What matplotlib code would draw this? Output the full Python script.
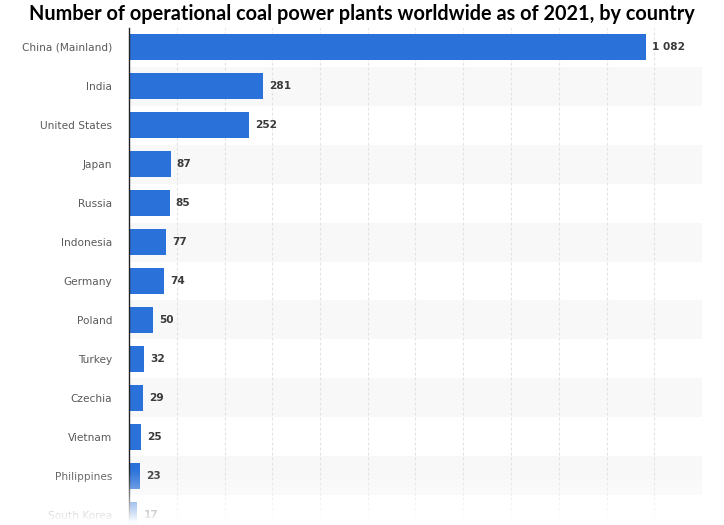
import matplotlib
matplotlib.use("Agg")
import matplotlib.pyplot as plt
import numpy as np

countries = ["China (Mainland)", "India", "United States", "Japan", "Russia",
             "Indonesia", "Germany", "Poland", "Turkey", "Czechia", "Vietnam",
             "Philippines", "South Korea"]
plants = [1082, 281, 252, 87, 85, 77, 74, 50, 32, 29, 25, 23, 17]

W, H = 724, 525
fig = plt.figure(figsize=(W / 100, H / 100), dpi=100)
ax = fig.add_axes([129 / W, 0.0, (702 - 129) / W, 1 - 27.5 / H])

y = np.arange(len(countries))
ax.barh(y, plants, height=0.67, color="#2a72d9", zorder=3)

# alternating row stripes
for i in y:
    if i % 2 == 1:
        ax.axhspan(i - 0.5, i + 0.5, color="#f8f8f8", zorder=0, lw=0)

ax.set_xlim(0, 1200)
ax.set_ylim((H - 47) / 39, -0.5)
ax.set_xticks(np.arange(100, 1201, 100))
ax.xaxis.grid(True, color="#e2e2e2", linestyle=(0, (2.5, 2)), linewidth=0.8, zorder=1)
ax.tick_params(axis="x", length=0, labelbottom=False)
ax.tick_params(axis="y", length=0, pad=12, labelsize=7.6, labelcolor="#5a5a5a")
ax.set_yticks(y)
ax.set_yticklabels(countries)
for s in ["top", "right", "bottom"]:
    ax.spines[s].set_visible(False)
ax.spines["left"].set_color("#222222")
ax.spines["left"].set_linewidth(1.0)
ax.spines["left"].set_zorder(4)

for yi, v in zip(y, plants):
    txt = f"{v:,}".replace(",", " ")
    ax.annotate(txt, (v, yi), xytext=(4.5, 0), textcoords="offset points",
                ha="left", va="center", fontsize=7.6, fontweight="bold",
                color="#3a3a3a", zorder=5)

fig.text(0.5, 1 - 14.5 / H, "Number of operational coal power plants worldwide as of 2021, by country",
         ha="center", va="center", fontsize=14.3, fontweight="bold",
         family=["Lato", "DejaVu Sans"], color="#000000")

# white fade at the bottom
fade_top = 468
fade = fig.add_axes([0, 0, 1, (H - fade_top) / H], zorder=10)
a = np.clip(1.05 * np.linspace(0, 1, 100) ** 1.2, 0, 0.98)
img = np.ones((100, 1, 4))
img[:, 0, 3] = a
fade.imshow(img, aspect="auto", extent=(0, 1, 0, 1), origin="upper")
fade.axis("off")

fig.savefig("out.png", dpi=100)
